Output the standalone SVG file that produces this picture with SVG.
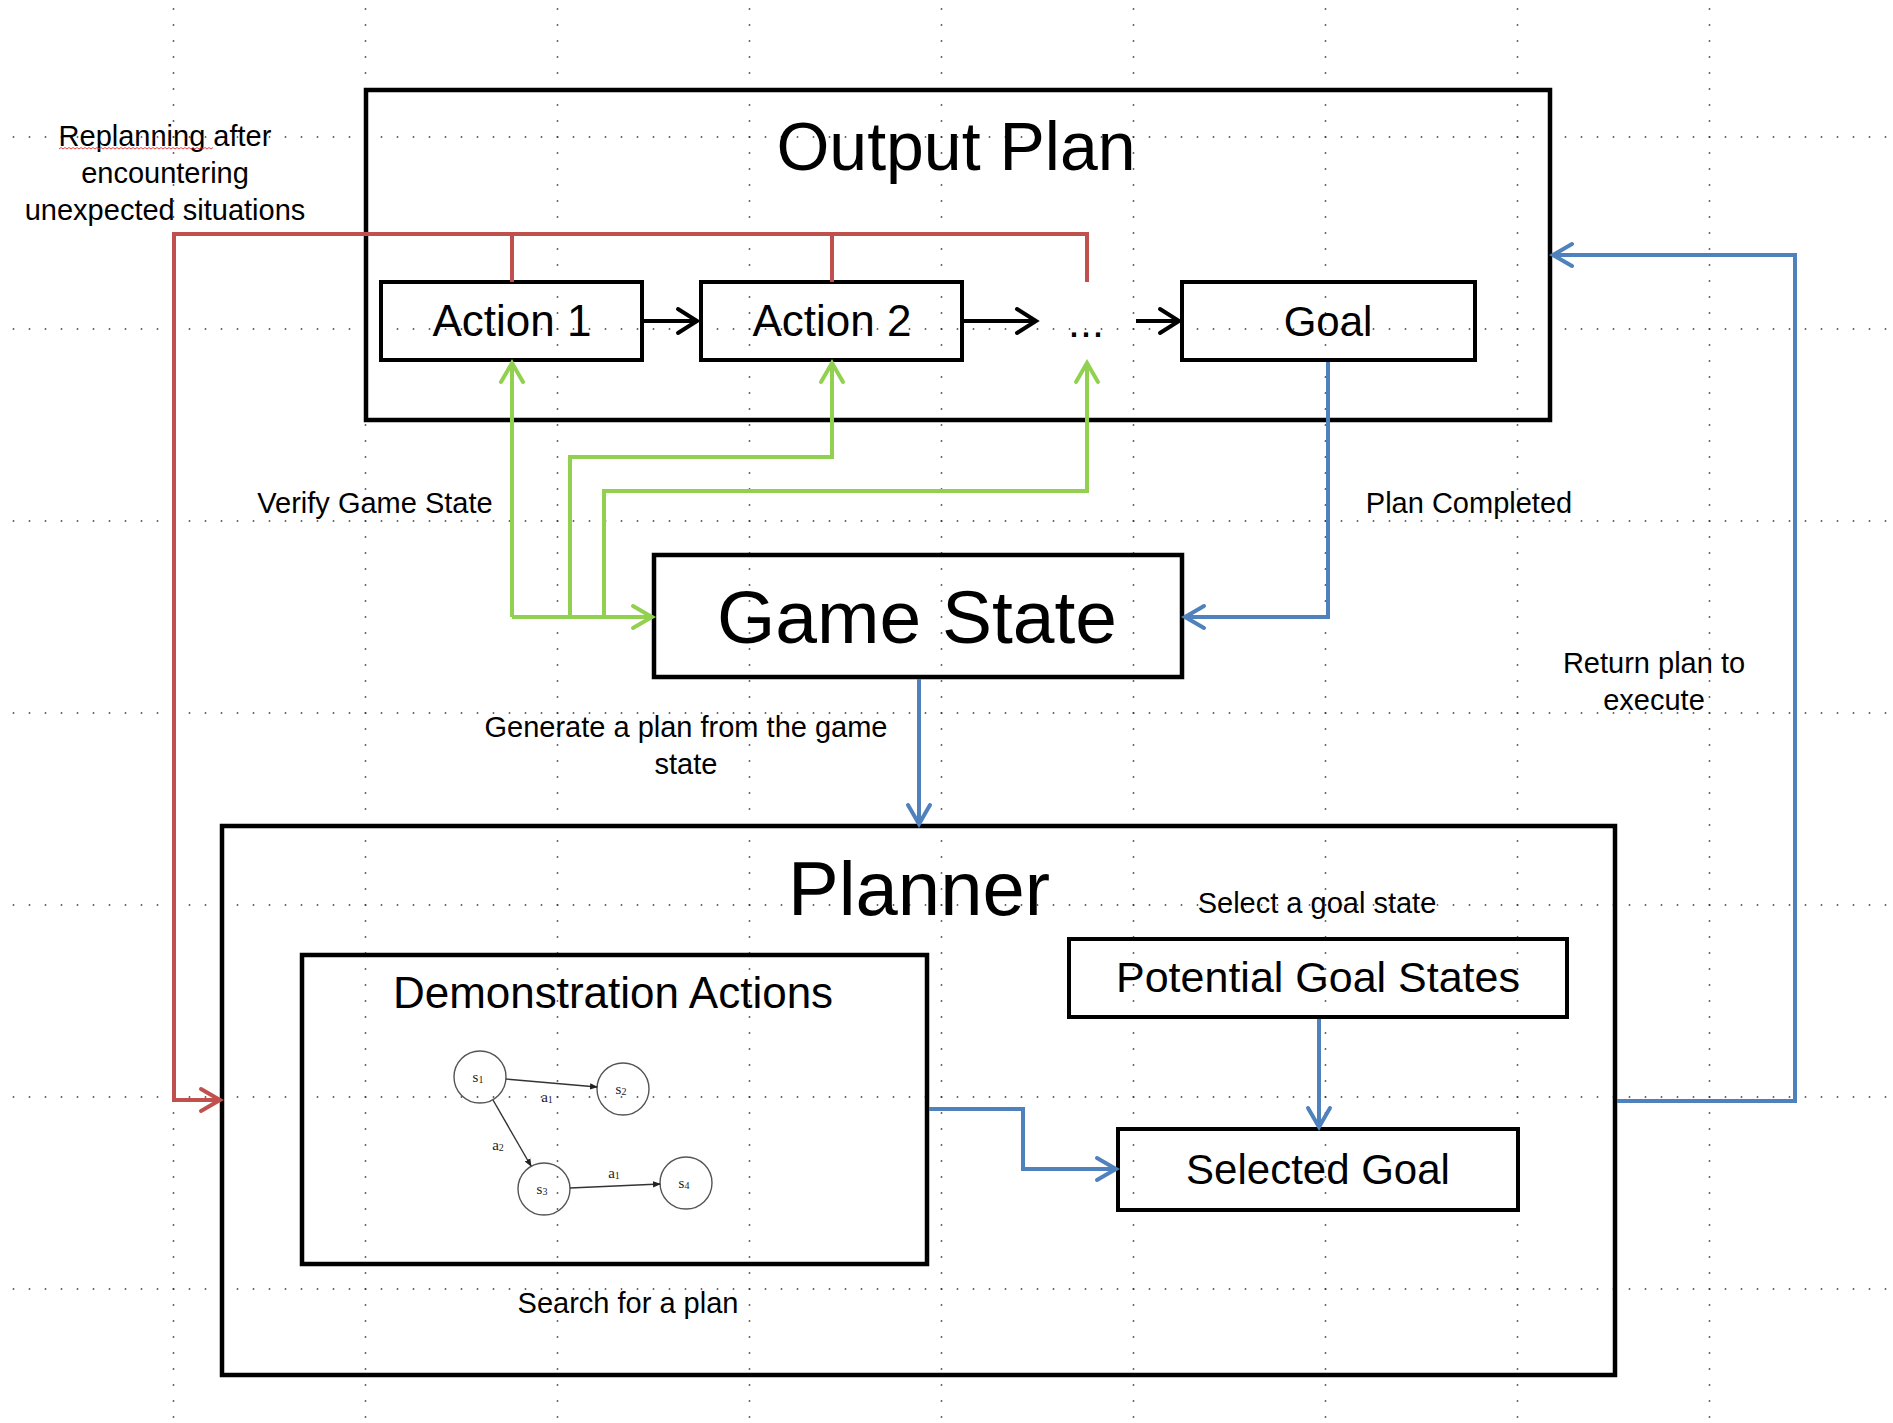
<svg xmlns="http://www.w3.org/2000/svg" width="1893" height="1423" viewBox="0 0 1893 1423">
<style>
.grid{stroke:#333;stroke-width:1.5;stroke-dasharray:1.5 14.5;fill:none}
.box{fill:none;stroke:#000;stroke-width:4.5}
.sbox{fill:none;stroke:#000;stroke-width:4}
.t{font-family:"Liberation Sans",Arial,sans-serif;fill:#000;text-anchor:middle}
.lbl{font-size:29px}
.node{font-size:43px}
.red{fill:none;stroke:#C0504D;stroke-width:4}
.blue{fill:none;stroke:#4F81BD;stroke-width:4}
.green{fill:none;stroke:#92D050;stroke-width:4}
.blk{fill:none;stroke:#000;stroke-width:4}
.circ{fill:none;stroke:#555;stroke-width:1.4}
.sedge{fill:none;stroke:#333;stroke-width:1.4}
.st{font-family:"Liberation Serif","Times New Roman",serif;fill:#222;text-anchor:middle;font-size:15px}
</style>
<defs>
<marker id="ak" markerUnits="userSpaceOnUse" viewBox="0 0 26 30" markerWidth="26" markerHeight="30" refX="22" refY="15" orient="auto"><path d="M3,3 L22,15 L3,27" fill="none" stroke="#000" stroke-width="4" stroke-linecap="round"/></marker>
<marker id="ab" markerUnits="userSpaceOnUse" viewBox="0 0 26 30" markerWidth="26" markerHeight="30" refX="22" refY="15" orient="auto"><path d="M3,4 L22,15 L3,26" fill="none" stroke="#4F81BD" stroke-width="4" stroke-linecap="round"/></marker>
<marker id="ag" markerUnits="userSpaceOnUse" viewBox="0 0 26 30" markerWidth="26" markerHeight="30" refX="22" refY="15" orient="auto"><path d="M3,4 L22,15 L3,26" fill="none" stroke="#92D050" stroke-width="4" stroke-linecap="round"/></marker>
<marker id="ar" markerUnits="userSpaceOnUse" viewBox="0 0 26 30" markerWidth="26" markerHeight="30" refX="22" refY="15" orient="auto"><path d="M3,4 L22,15 L3,26" fill="none" stroke="#C0504D" stroke-width="4" stroke-linecap="round"/></marker>
<marker id="as" markerUnits="userSpaceOnUse" viewBox="0 0 8 8" markerWidth="8" markerHeight="8" refX="7" refY="4" orient="auto"><path d="M0,0.8 L8,4 L0,7.2 Z" fill="#222"/></marker>
</defs>

<g id="grid">
<path class="grid" d="M12.75,137 H1893 M12.75,329 H1893 M12.75,521 H1893 M12.75,713 H1893 M12.75,905 H1893 M12.75,1097 H1893 M12.75,1289 H1893"/>
<path class="grid" d="M173.5,8.25 V1423 M365.5,8.25 V1423 M557.5,8.25 V1423 M749.5,8.25 V1423 M941.5,8.25 V1423 M1133.5,8.25 V1423 M1325.5,8.25 V1423 M1517.5,8.25 V1423 M1709.5,8.25 V1423"/>
</g>

<g id="output-plan">
<rect class="box" x="366" y="90" width="1184" height="330"/>
<text class="t" x="956" y="170" font-size="68">Output Plan</text>
</g>
<g id="action-1">
<rect class="sbox" x="381" y="282" width="261" height="78"/>
<text class="t" x="512" y="336" font-size="44">Action 1</text>
</g>
<g id="action-2">
<rect class="sbox" x="701" y="282" width="261" height="78"/>
<text class="t" x="832" y="336" font-size="44">Action 2</text>
</g>
<g id="ellipsis">
<text class="t node" x="1086" y="337">...</text>
</g>
<g id="goal">
<rect class="sbox" x="1182" y="282" width="293" height="78"/>
<text class="t" x="1328" y="336" font-size="42">Goal</text>
</g>
<g id="game-state">
<rect class="box" x="654" y="555" width="528" height="122"/>
<text class="t" x="917" y="643" font-size="75">Game State</text>
</g>
<g id="planner">
<rect class="box" x="222" y="826" width="1393" height="549"/>
<text class="t" x="919" y="915" font-size="76">Planner</text>
</g>
<g id="demonstration-actions">
<rect class="box" x="302" y="955" width="625" height="309"/>
<text class="t" x="613" y="1008" font-size="44">Demonstration Actions</text>
<g id="demo-graph">
<circle class="circ" cx="480" cy="1077" r="26"/>
<circle class="circ" cx="623" cy="1089" r="26"/>
<circle class="circ" cx="544" cy="1189" r="26"/>
<circle class="circ" cx="686" cy="1183" r="26"/>
<path class="sedge" d="M506,1079 L597,1087" marker-end="url(#as)"/>
<path class="sedge" d="M493,1100 L531,1166" marker-end="url(#as)"/>
<path class="sedge" d="M570,1188 L660,1184" marker-end="url(#as)"/>
<text class="st" x="478" y="1082">s<tspan font-size="10" dy="1">1</tspan></text>
<text class="st" x="621" y="1094">s<tspan font-size="10" dy="1">2</tspan></text>
<text class="st" x="542" y="1194">s<tspan font-size="10" dy="1">3</tspan></text>
<text class="st" x="684" y="1188">s<tspan font-size="10" dy="1">4</tspan></text>
<text class="st" x="547" y="1102" font-size="17">a<tspan font-size="10" dy="1">1</tspan></text>
<text class="st" x="498" y="1150" font-size="17">a<tspan font-size="10" dy="1">2</tspan></text>
<text class="st" x="614" y="1178" font-size="17">a<tspan font-size="10" dy="1">1</tspan></text>
</g>
</g>
<g id="potential-goal-states">
<rect class="sbox" x="1069" y="939" width="498" height="78"/>
<text class="t node" x="1318" y="992">Potential Goal States</text>
</g>
<g id="selected-goal">
<rect class="sbox" x="1118" y="1129" width="400" height="81"/>
<text class="t" x="1318" y="1184" font-size="42">Selected Goal</text>
</g>

<g id="connectors">
<path class="blk" d="M644,321 H697" marker-end="url(#ak)"/>
<path class="blk" d="M964,321 H1036" marker-end="url(#ak)"/>
<path class="blk" d="M1136,321 H1179" marker-end="url(#ak)"/>
<path class="red" d="M512,282 V234 M832,282 V234 M1087,282 V234 H174 V1100 H220" marker-end="url(#ar)"/>
<path class="green" d="M512,617 V363" marker-end="url(#ag)"/>
<path class="green" d="M570,617 V457 H832 V363" marker-end="url(#ag)"/>
<path class="green" d="M604,617 V491 H1087 V363" marker-end="url(#ag)"/>
<path class="green" d="M512,617 H652" marker-end="url(#ag)"/>
<path class="blue" d="M1328,362 V617 H1185" marker-end="url(#ab)"/>
<path class="blue" d="M919,679 V824" marker-end="url(#ab)"/>
<path class="blue" d="M1319,1019 V1127" marker-end="url(#ab)"/>
<path class="blue" d="M929,1109 H1023 V1169 H1116" marker-end="url(#ab)"/>
<path class="blue" d="M1617,1101 H1795 V255 H1553" marker-end="url(#ab)"/>
</g>

<g id="labels">
<text class="t lbl" x="165" y="146">Replanning after</text>
<path d="M59,149 l2,-1.5 l2,1.5 l2,-1.5 l2,1.5 l2,-1.5 l2,1.5 l2,-1.5 l2,1.5 l2,-1.5 l2,1.5 l2,-1.5 l2,1.5 l2,-1.5 l2,1.5 l2,-1.5 l2,1.5 l2,-1.5 l2,1.5 l2,-1.5 l2,1.5 l2,-1.5 l2,1.5 l2,-1.5 l2,1.5 l2,-1.5 l2,1.5 l2,-1.5 l2,1.5 l2,-1.5 l2,1.5 l2,-1.5 l2,1.5 l2,-1.5 l2,1.5 l2,-1.5 l2,1.5 l2,-1.5 l2,1.5 l2,-1.5 l2,1.5 l2,-1.5 l2,1.5 l2,-1.5 l2,1.5 l2,-1.5 l2,1.5 l2,-1.5 l2,1.5 l2,-1.5 l2,1.5 l2,-1.5 l2,1.5 l2,-1.5 l2,1.5 l2,-1.5 l2,1.5 l2,-1.5 l2,1.5 l2,-1.5 l2,1.5 l2,-1.5 l2,1.5 l2,-1.5 l2,1.5 l2,-1.5 l2,1.5 l2,-1.5 l2,1.5 l2,-1.5 l2,1.5 l2,-1.5 l2,1.5 l2,-1.5 l2,1.5 l2,-1.5 l2,1.5 l2,-1.5" fill="none" stroke="#e03030" stroke-width="0.9"/>
<text class="t lbl" x="165" y="183">encountering</text>
<text class="t lbl" x="165" y="220">unexpected situations</text>
<text class="t lbl" x="375" y="513">Verify Game State</text>
<text class="t lbl" x="1469" y="513">Plan Completed</text>
<text class="t lbl" x="1654" y="673">Return plan to</text>
<text class="t lbl" x="1654" y="710">execute</text>
<text class="t lbl" x="686" y="737">Generate a plan from the game</text>
<text class="t lbl" x="686" y="774">state</text>
<text class="t lbl" x="1317" y="913">Select a goal state</text>
<text class="t lbl" x="628" y="1313">Search for a plan</text>
</g>
</svg>
